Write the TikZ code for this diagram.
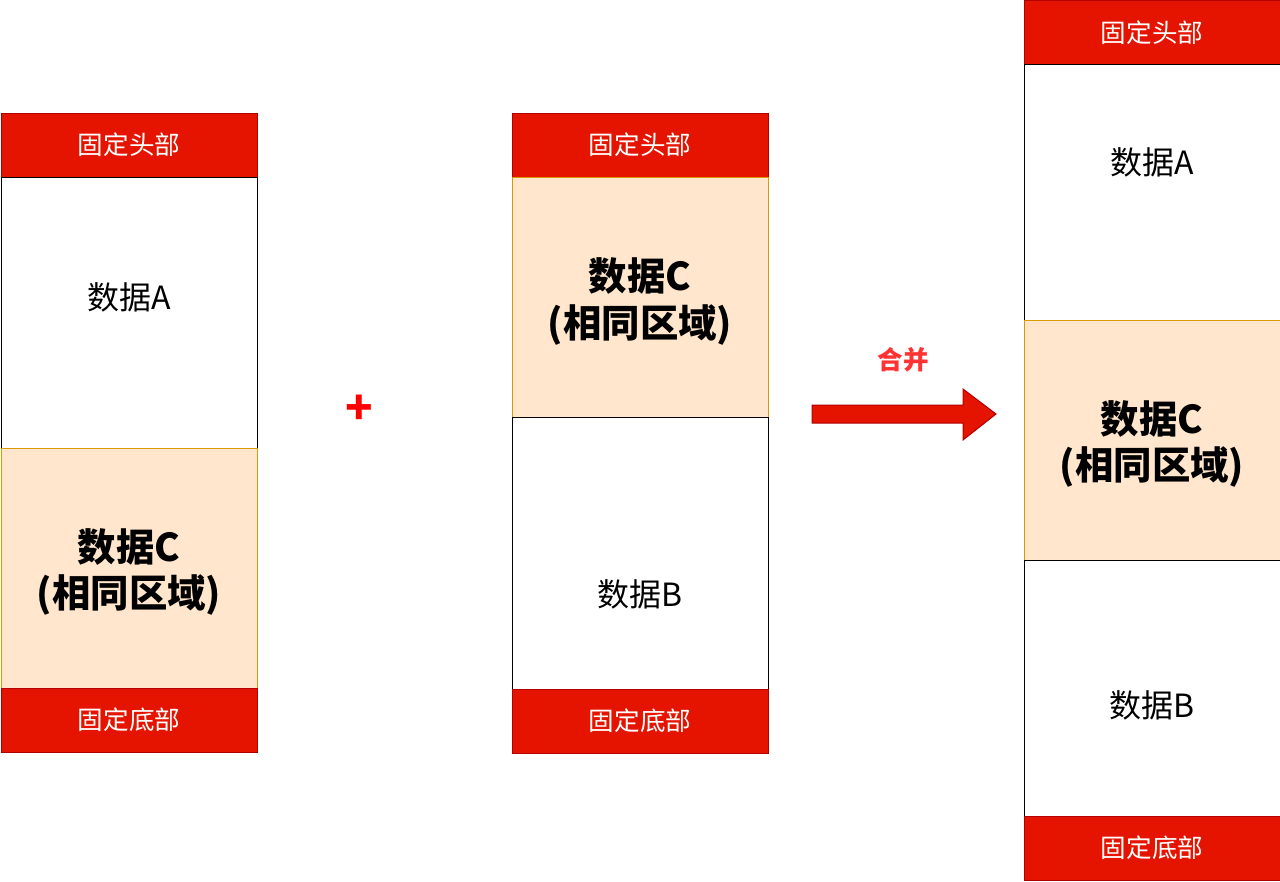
\documentclass[tikz,border=0pt]{standalone}
\usepackage{fontspec}
\setmainfont{Noto Sans CJK SC}
\usetikzlibrary{positioning}
\definecolor{hdred}{HTML}{E51400}
\definecolor{hdborder}{HTML}{B20000}
\definecolor{cfill}{HTML}{FFE6CC}
\definecolor{cborder}{HTML}{D79B00}
\definecolor{mergered}{HTML}{FF3333}
\definecolor{plusred}{HTML}{FF0000}

\begin{document}
\begin{tikzpicture}[x=0.75pt, y=-0.75pt,
  block/.style={rectangle, draw=black, fill=white, minimum width=192pt,
    inner sep=0pt, outer sep=0pt, line width=0.75pt},
  fixed/.style={block, draw=hdborder, fill=hdred, minimum height=48pt},
  same/.style={block, draw=cborder, fill=cfill, minimum height=180pt},
  fixtext/.style={text=white, font=\fontsize{19.2}{23}\selectfont},
  datatext/.style={font=\fontsize{24}{29}\selectfont},
  sametext/.style={align=center, font=\fontsize{28.8}{35}\selectfont\bfseries}]
  \useasboundingbox (0,0) rectangle (1280,881);

  % left column
  \node[fixed, anchor=north west] (lhead) at (1,113) {};
  \node[block, minimum height=203.25pt, below=0pt of lhead] (ldataA) {};
  \node[same, below=0pt of ldataA] (ldataC) {};
  \node[fixed, below=0pt of ldataC] (lfoot) {};
  \node[fixtext] at (lhead) {固定头部};
  \node[datatext] at ([yshift=11.25pt]ldataA.center) {数据A};
  \node[sametext] at ([yshift=-3pt]ldataC.center) {数据C\\(相同区域)};
  \node[fixtext] at (lfoot) {固定底部};

  % middle column
  \node[fixed, anchor=north west] (mhead) at (512,113) {};
  \node[same, below=0pt of mhead] (mdataC) {};
  \node[block, minimum height=204pt, below=0pt of mdataC] (mdataB) {};
  \node[fixed, below=0pt of mdataB] (mfoot) {};
  \node[fixtext] at (mhead) {固定头部};
  \node[sametext] at ([yshift=-3.5pt]mdataC.center) {数据C\\(相同区域)};
  \node[datatext] at ([yshift=-30.75pt]mdataB.center) {数据B};
  \node[fixtext] at (mfoot) {固定底部};

  % right column
  \node[fixed, anchor=north west] (rhead) at (1024,1) {};
  \node[block, minimum height=191.25pt, below=0pt of rhead] (rdataA) {};
  \node[same, below=0pt of rdataA] (rdataC) {};
  \node[block, minimum height=192pt, below=0pt of rdataC] (rdataB) {};
  \node[fixed, below=0pt of rdataB] (rfoot) {};
  \node[fixtext] at (rhead) {固定头部};
  \node[datatext] at ([yshift=22.5pt]rdataA.center) {数据A};
  \node[sametext] at ([yshift=-3pt]rdataC.center) {数据C\\(相同区域)};
  \node[datatext] at ([yshift=-12.75pt]rdataB.center) {数据B};
  \node[fixtext] at (rfoot) {固定底部};

  % plus and merge arrow
  \node[text=plusred, font=\fontsize{34}{40}\selectfont\bfseries] (plus) at (359,410) {+};
  \draw[draw=hdborder, fill=hdred, line width=0.75pt]
    (812,405) -- (963,405) -- (963,389) -- (996,414) -- (963,440)
    -- (963,423) -- (812,423) -- cycle;
  \node[text=mergered, font=\fontsize{19.2}{23}\selectfont\bfseries] (merge) at (903,360) {合并};
\end{tikzpicture}
\end{document}
